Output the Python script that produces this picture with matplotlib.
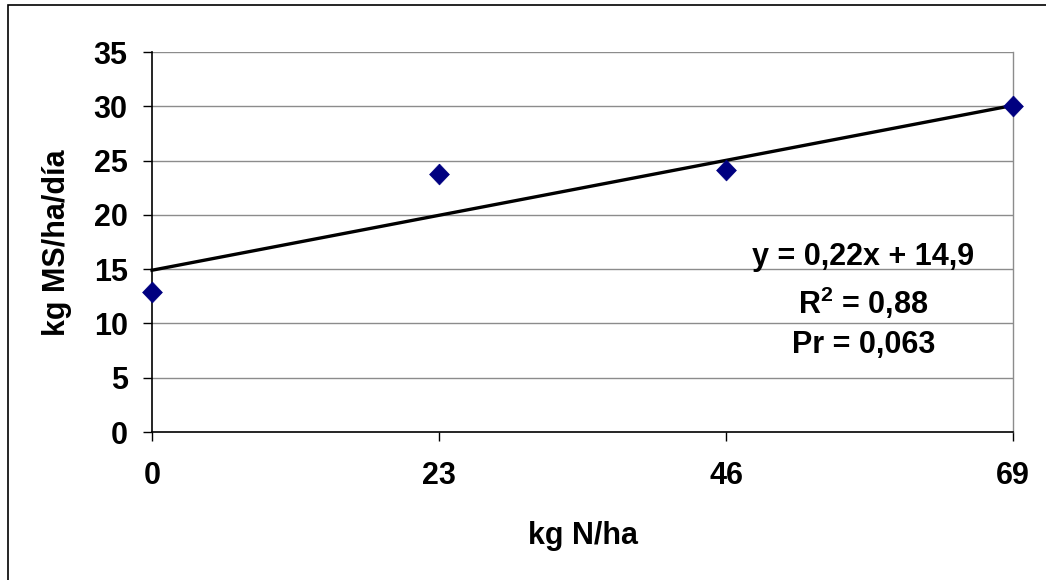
import numpy as np
import matplotlib
matplotlib.use("Agg")
import matplotlib.pyplot as plt
from matplotlib.patches import Rectangle

# Dosis de N (kg N/ha) y tasa de crecimiento (kg MS/ha/dia)
dose_n = [0, 23, 46, 69]
growth = [12.9, 23.8, 24.1, 30.0]

# Recta de regresion del grafico original
trend_slope = 0.22
trend_intercept = 14.9

x_ticks = [0, 23, 46, 69]
y_ticks = [0, 5, 10, 15, 20, 25, 30, 35]

eq_text = "y = 0,22x + 14,9"
r2_text = r"R$^{\mathrm{2}}$ = 0,88"
pr_text = "Pr = 0,063"

FS = 22

plt.rcParams['font.family'] = ['Liberation Sans', 'DejaVu Sans']
plt.rcParams['font.weight'] = 'bold'
plt.rcParams['mathtext.fontset'] = 'custom'
plt.rcParams['mathtext.rm'] = 'Liberation Sans:bold'
plt.rcParams['mathtext.it'] = 'Liberation Sans:bold'
plt.rcParams['mathtext.bf'] = 'Liberation Sans:bold'

fig = plt.figure(figsize=(10.46, 5.8), dpi=100)
ax = fig.add_axes([152/1046, 1 - 432/580, (1013 - 152)/1046, (432 - 52)/580])

# borde del grafico (solo se ven el lado izquierdo y el superior)
fig.add_artist(Rectangle((8/1046, -0.2), 1.3, 1.2 - 5/580,
                         transform=fig.transFigure, fill=False,
                         edgecolor='black', linewidth=1.2))

ax.set_xlim(0, 69)
ax.set_ylim(0, 35)
ax.set_xticks(x_ticks)
ax.set_yticks(y_ticks)

for y in y_ticks[1:]:
    ax.axhline(y, color='#8c8c8c', linewidth=1.0, zorder=1)

ax.spines['top'].set_visible(False)
ax.spines['right'].set_color('#8c8c8c')
ax.spines['right'].set_linewidth(1.0)
ax.spines['left'].set_linewidth(1.2)
ax.spines['bottom'].set_linewidth(1.2)

ax.tick_params(axis='both', direction='out', length=6.5, width=1.0,
               labelsize=FS)
ax.tick_params(axis='x', pad=14.5)
ax.tick_params(axis='y', pad=11)
for lab in ax.get_xticklabels() + ax.get_yticklabels():
    lab.set_fontweight('bold')

xs = np.array([dose_n[0], dose_n[-1]])
ax.plot(xs, trend_slope * xs + trend_intercept, color='black',
        linewidth=2.4, zorder=3, clip_on=False)

diamond = [(0, 1), (0.95, 0), (0, -1), (-0.95, 0), (0, 1)]
ax.plot(dose_n, growth, linestyle='none', marker=diamond, markersize=15,
        color='#000080', markeredgewidth=0.5, zorder=4, clip_on=False)

ax.text(57.0, 16.1, eq_text, ha='center', va='center', fontsize=FS,
        fontweight='bold')
ax.text(57.0, 11.9, r2_text, ha='center', va='center', fontsize=FS,
        fontweight='bold')
ax.text(57.0, 8.0, pr_text, ha='center', va='center', fontsize=FS,
        fontweight='bold')

fig.text(583/1046, 1 - 536/580, "kg N/ha", ha='center', va='center',
         fontsize=FS, fontweight='bold')
fig.text(57/1046, 1 - 243/580, "kg MS/ha/día", ha='center', va='center',
         rotation=90, fontsize=FS, fontweight='bold')

fig.savefig("out.png", dpi=100)
